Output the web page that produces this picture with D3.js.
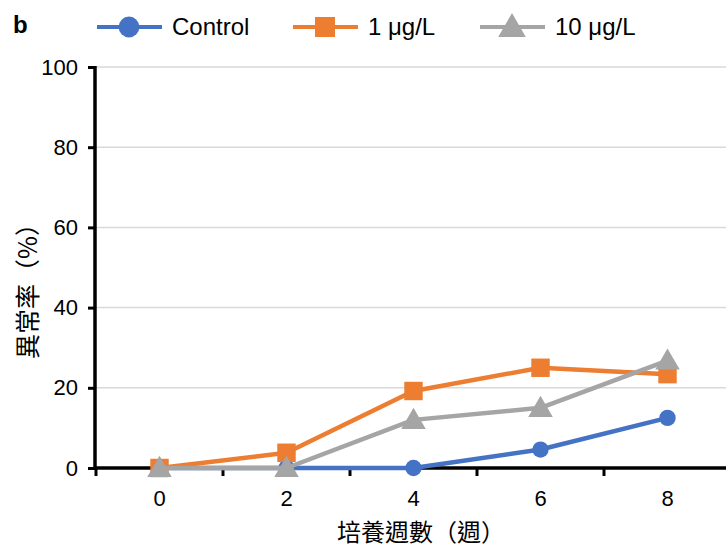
<!DOCTYPE html>
<html>
<head>
<meta charset="utf-8">
<script src="https://cdn.jsdelivr.net/npm/d3@7"></script>
<style>
  body { margin: 0; background: #fff; }
  svg { display: block; font-family: Arial, "Liberation Sans", sans-serif; }
</style>
</head>
<body>
<div id="chart"></div>
<script>
// DATA ---------------------------------------------------------------
const weeks = ["0", "2", "4", "6", "8"];
const seriesNames = ["Control", "1 μg/L", "10 μg/L"];
const controlValues = [0, 0, 0, 4.6, 12.5];
const low1Values = [0, 3.8, 19.2, 25.0, 23.4];
const high10Values = [0, 0, 12.0, 15.0, 26.8];
const yTicks = [0, 20, 40, 60, 80, 100];

const colors = ["#4472C4", "#ED7D31", "#A5A5A5"];
const symbols = [d3.symbolCircle, d3.symbolSquare, d3.symbolTriangle];

const width = 726, height = 551;

const svg = d3.select("#chart").append("svg")
  .attr("width", width).attr("height", height);

// SCALES
const x = d3.scaleBand().domain(weeks).range([96, 731]);
const y = d3.scaleLinear().domain([0, 100]).range([468, 67]);

// GRID
svg.append("g").selectAll("line").data(yTicks.filter(d => d > 0)).enter()
  .append("line")
  .attr("x1", 96).attr("x2", width)
  .attr("y1", d => y(d)).attr("y2", d => y(d))
  .attr("stroke", "#d9d9d9").attr("stroke-width", 1.5);

// Y AXIS
const yAxis = svg.append("g").attr("transform", "translate(95,0)")
  .call(d3.axisLeft(y).tickValues(yTicks).tickSize(7).tickPadding(10));
yAxis.select(".domain").attr("stroke", "#000").attr("stroke-width", 3.5)
  .attr("d", `M0,${y(100) - 1}V${y(0)}`);
yAxis.selectAll(".tick line").attr("stroke", "#000").attr("stroke-width", 3);
yAxis.selectAll(".tick text").attr("font-size", 22).attr("fill", "#000")
  .attr("font-family", "Arial, 'Liberation Sans', sans-serif");

// X AXIS
const xAxis = svg.append("g").attr("transform", "translate(0,468)");
xAxis.append("line").attr("x1", 94).attr("x2", width)
  .attr("stroke", "#000").attr("stroke-width", 3.5);
xAxis.selectAll(".xtick").data(weeks).enter().append("line")
  .attr("x1", d => x(d)).attr("x2", d => x(d))
  .attr("y1", 0).attr("y2", 8)
  .attr("stroke", "#000").attr("stroke-width", 3);
xAxis.selectAll(".xlabel").data(weeks).enter().append("text")
  .attr("x", d => x(d) + x.bandwidth() / 2).attr("y", 38)
  .attr("text-anchor", "middle").attr("font-size", 22).text(d => d);

// AXIS TITLES
svg.append("text").attr("x", 421).attr("y", 541)
  .attr("text-anchor", "middle").attr("font-size", 24)
  .attr("font-family", "'Noto Sans CJK TC', sans-serif")
  .text("培養週數（週）");
svg.append("text")
  .attr("transform", "translate(37,285) rotate(-90)")
  .attr("text-anchor", "middle").attr("font-size", 25)
  .attr("font-family", "'Noto Sans CJK TC', sans-serif")
  .text("異常率（%）");

// SERIES
const allSeries = [controlValues, low1Values, high10Values];
const line = d3.line()
  .x((d, i) => x(weeks[i]) + x.bandwidth() / 2)
  .y(d => y(d));

const markerSize = [210, 340, 260];

allSeries.forEach((vals, s) => {
  const g = svg.append("g");
  g.append("path").datum(vals)
    .attr("d", line).attr("fill", "none")
    .attr("stroke", colors[s]).attr("stroke-width", 4.5)
    .attr("stroke-linejoin", "round");
  g.selectAll("path.m").data(vals).enter().append("path")
    .attr("class", "m")
    .attr("transform", (d, i) => `translate(${x(weeks[i]) + x.bandwidth() / 2},${y(d) + (s === 2 ? 2 : 0)})`)
    .attr("d", d3.symbol().type(symbols[s]).size(markerSize[s]))
    .attr("fill", colors[s]);
});

// LEGEND
svg.append("text").attr("x", 13).attr("y", 33)
  .attr("font-size", 24).attr("font-weight", "bold").text("b");

const legendPos = [97, 293, 480];
const legendSize = [340, 400, 330];
const legend = svg.append("g");
seriesNames.forEach((name, s) => {
  const lx = legendPos[s];
  legend.append("line").attr("x1", lx).attr("x2", lx + 65)
    .attr("y1", 27).attr("y2", 27)
    .attr("stroke", colors[s]).attr("stroke-width", 4);
  legend.append("path")
    .attr("transform", `translate(${lx + 32},${27 + (s === 2 ? 2 : 0)})`)
    .attr("d", d3.symbol().type(symbols[s]).size(legendSize[s]))
    .attr("fill", colors[s]);
  legend.append("text").attr("x", lx + 75).attr("y", 35)
    .attr("font-size", 24).text(name);
});
</script>
</body>
</html>
